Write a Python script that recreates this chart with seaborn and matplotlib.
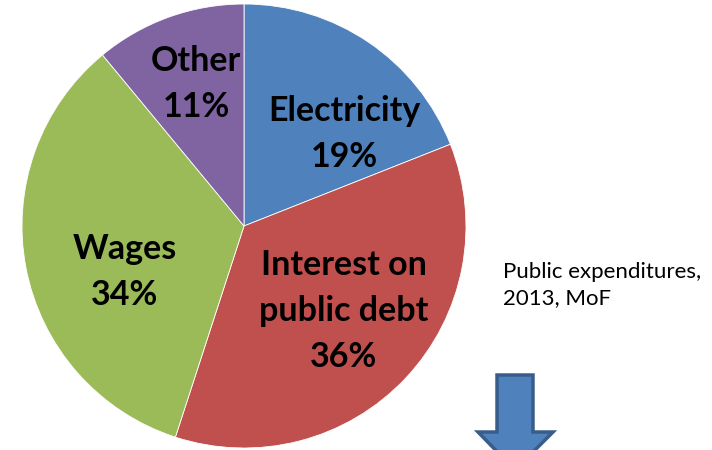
import matplotlib
matplotlib.use("Agg")
import matplotlib.pyplot as plt
import seaborn as sns
from matplotlib.patches import Polygon

sns.set_theme(style="white")
plt.rcParams['font.family'] = ['Lato', 'DejaVu Sans']

categories = ["Electricity", "Interest on\npublic debt", "Wages", "Other"]
values = [19, 36, 34, 11]
pct_labels = ["19%", "36%", "34%", "11%"]
colors = ["#4F81BD", "#C0504D", "#9BBB59", "#8064A2"]
source_note = "Public expenditures,\n2013, MoF"

W, H = 712, 450
fig = plt.figure(figsize=(W / 100, H / 100), dpi=100)
fig.patch.set_facecolor("white")

cx, cy, r = 244, 226, 222
ax = fig.add_axes([(cx - r) / W, (H - cy - r) / H, 2 * r / W, 2 * r / H])
wedges, _ = ax.pie(values, colors=colors, startangle=90, counterclock=False,
                   radius=1.0, wedgeprops=dict(edgecolor="white", linewidth=0.6))
ax.set_xlim(-1, 1)
ax.set_ylim(-1, 1)
ax.set_aspect("equal")
ax.axis("off")

# label centres in pixel space of the reference
label_pos = [(344, 134), (344, 311), (125, 272), (196, 84)]
for name, pct, (px, py) in zip(categories, pct_labels, label_pos):
    x = (px - cx) / r
    y = (cy - py) / r
    ax.text(x, y, f"{name}\n{pct}", ha="center", va="center",
            fontsize=24.5, fontweight="bold", color="black", linespacing=1.52)

fig.text(503 / W, 1 - 285 / H, source_note, ha="left", va="center",
         fontsize=16, color="black", linespacing=1.4)

# decorative down arrow (bottom right)
arrow_px = [(497, 375), (533, 375), (533, 432), (553, 432), (515, 470),
            (478, 432), (497, 432)]
arrow = Polygon([(x / W, 1 - y / H) for x, y in arrow_px], closed=True,
                transform=fig.transFigure, facecolor="#4F81BD",
                edgecolor="#385D8A", linewidth=2.5, clip_on=False)
fig.patches.append(arrow)

fig.savefig("out.png", dpi=100, facecolor="white")
